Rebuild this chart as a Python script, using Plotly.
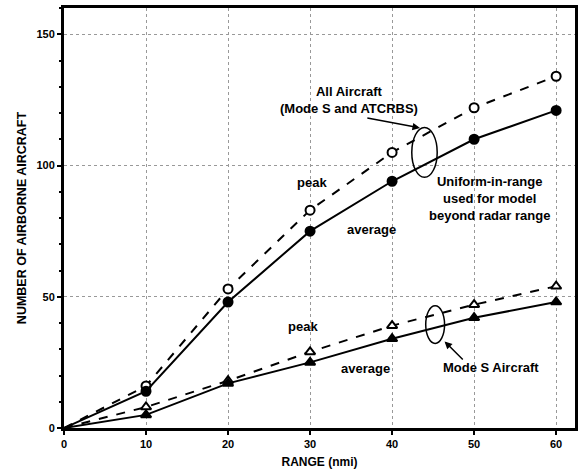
import plotly.graph_objects as go

# Range bins (nmi) and aircraft counts
range_nmi = [0, 10, 20, 30, 40, 50, 60]
all_peak = [0, 16, 53, 83, 105, 122, 134]
all_avg = [0, 14, 48, 75, 94, 110, 121]
modes_peak = [0, 8, 18, 29, 39, 47, 54]
modes_avg = [0, 5, 17, 25, 34, 42, 48]

x_ticks = [0, 10, 20, 30, 40, 50, 60]
y_ticks = [0, 50, 100, 150]

FONT = "Liberation Sans, Arial, sans-serif"

fig = go.Figure()

def add_series(y, symbol, fill, dash):
    # curve starts at the origin; markers only at the sampled ranges
    fig.add_trace(go.Scatter(
        x=range_nmi, y=y, mode="lines",
        line=dict(color="black", width=2, dash=dash),
        showlegend=False, cliponaxis=False,
    ))
    fig.add_trace(go.Scatter(
        x=range_nmi[1:], y=y[1:], mode="markers",
        marker=dict(symbol=symbol, size=9, color=fill, opacity=1,
                    line=dict(color="#000000", width=2)),
        showlegend=False, cliponaxis=False,
    ))

add_series(all_peak, "circle", "white", "dash")
add_series(all_avg, "circle", "black", "solid")
add_series(modes_peak, "triangle-up", "white", "dash")
add_series(modes_avg, "triangle-up", "black", "solid")

# Bracketing ellipses around each pair of curves
fig.add_shape(type="circle", xref="x", yref="y", x0=42.4, x1=45.5, y0=95.5, y1=114.5,
              line=dict(color="black", width=1.5))
fig.add_shape(type="circle", xref="x", yref="y", x0=44.1, x1=46.4, y0=32.2, y1=46.6,
              line=dict(color="black", width=1.5))

bold = dict(family=FONT, size=13, color="black")
ann = [
    dict(x=34.7, y=125.0, text="<b>All Aircraft<br>(Mode S and ATCRBS)</b>"),
    dict(x=30.2, y=93.5, text="<b>peak</b>"),
    dict(x=37.5, y=75.5, text="<b>average</b>"),
    dict(x=51.9, y=87.5, text="<b>Uniform-in-range<br>used for model<br>beyond radar range</b>"),
    dict(x=29.1, y=38.5, text="<b>peak</b>"),
    dict(x=36.8, y=22.5, text="<b>average</b>"),
    dict(x=52.0, y=23, text="<b>Mode S Aircraft</b>"),
]
for a in ann:
    fig.add_annotation(x=a["x"], y=a["y"], text=a["text"], showarrow=False,
                       font=bold, xref="x", yref="y")

# Pointer arrows to the ellipses
fig.add_annotation(x=43.4, y=114.3, ax=36.8, ay=118.2, xref="x", yref="y",
                   axref="x", ayref="y", text="", showarrow=True,
                   arrowhead=2, arrowsize=1, arrowwidth=1.5, arrowcolor="black")
fig.add_annotation(x=46.4, y=33.0, ax=48.8, ay=25.5, xref="x", yref="y",
                   axref="x", ayref="y", text="", showarrow=True,
                   arrowhead=2, arrowsize=1, arrowwidth=1.5, arrowcolor="black")

fig.update_layout(
    width=583, height=473,
    margin=dict(l=64, r=5, t=8, b=43),
    paper_bgcolor="white", plot_bgcolor="white",
    font=dict(family=FONT, color="black"),
)
fig.update_xaxes(
    range=[0, 62.3], tickvals=x_ticks, ticktext=[f"<b>{v}</b>" for v in x_ticks],
    tickfont=dict(family=FONT, size=11, color="black"),
    showgrid=True, gridcolor="#999", griddash="dot", gridwidth=1,
    showline=True, linecolor="black", linewidth=3, mirror=True,
    ticks="outside", ticklen=4, tickwidth=1.5, tickcolor="black",
    zeroline=False,
    title=dict(text="<b>RANGE (nmi)</b>", font=dict(family=FONT, size=12, color="black"), standoff=9),
)
fig.update_yaxes(
    range=[0, 160], tickvals=y_ticks, ticktext=[f"<b>{v}</b>" for v in y_ticks],
    tickfont=dict(family=FONT, size=11, color="black"),
    showgrid=True, gridcolor="#999", griddash="dot", gridwidth=1,
    showline=True, linecolor="black", linewidth=3, mirror=True,
    ticks="outside", ticklen=4, tickwidth=1.5, tickcolor="black",
    minor=dict(dtick=10, ticks="outside", ticklen=2, tickcolor="black", showgrid=False),
    zeroline=False,
    title=dict(text="<b>NUMBER OF AIRBORNE AIRCRAFT</b>", font=dict(family=FONT, size=12.5, color="black"), standoff=8),
)

fig.write_html("out.html")
